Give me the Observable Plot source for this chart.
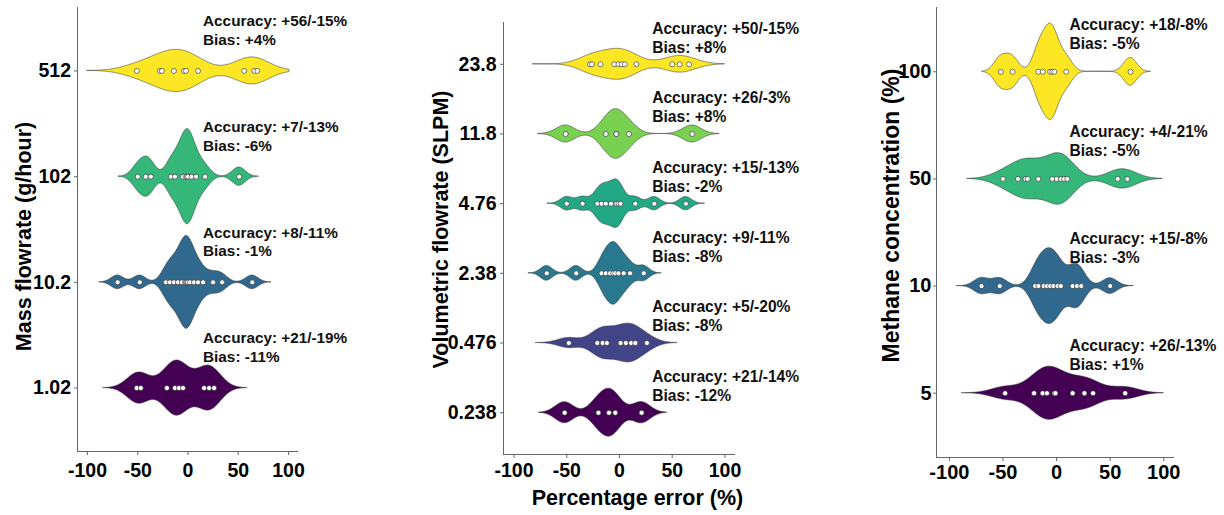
<!DOCTYPE html>
<html><head><meta charset="utf-8">
<script src="https://cdn.jsdelivr.net/npm/d3@7"></script>
<script src="https://cdn.jsdelivr.net/npm/@observablehq/plot@0.6"></script>
<style>
html,body{margin:0;padding:0;background:#fff;}
#root{position:relative;width:1224px;height:515px;overflow:hidden;font-family:"Liberation Sans",Arial,sans-serif;}
.panel{position:absolute;top:0;}
</style></head><body><div id="root"></div>
<script>
// ---------- shared ----------
const xTicks = [-100, -50, 0, 50, 100];
const xTitle = "Percentage error (%)";

// ---------- Panel 1: mass flowrate ----------
const massTitle = "Mass flowrate (g/hour)";
const massLabels = ["512", "102", "10.2", "1.02"];
const massColors = ["#FDE725", "#35B779", "#31688E", "#440154"];
const massPoints = [
  [-51, -28, -26, -14, -4, -2, 10, 56, 66, 69],
  [-50, -42, -37, -17, -13, -5, -2, -1, 0, 3.5, 8, 17, 51],
  [-70, -48, -22, -18, -14, -10, -6, -3, -2, -1, 0, 2, 6, 10, 15, 25, 34, 64],
  [-51, -47, -21, -13, -9, -5, 16, 21, 26]
];
const massBandwidth = [16, 6.4, 6.2, 10.9];
const massRange = [[-100, 101], [-69, 70.5], [-88, 83], [-84, 59]];
const massAccuracy = ["+56/-15%", "+7/-13%", "+8/-11%", "+21/-19%"];
const massBias = ["+4%", "-6%", "-1%", "-11%"];

// ---------- Panel 2: volumetric flowrate ----------
const volTitle = "Volumetric flowrate (SLPM)";
const volLabels = ["23.8", "11.8", "4.76", "2.38", "0.476", "0.238"];
const volColors = ["#FDE725", "#7AD151", "#22A884", "#2A788E", "#414487", "#440154"];
const volPoints = [
  [-28, -26, -18, -5, -1, 2, 5, 16, 50, 57, 66],
  [-51, -13, -3, -3, 9, 69],
  [-50, -35, -21, -17, -13, -8, -3, -1, 1, 15, 33, 63],
  [-69, -41, -17, -13, -9, -6, -4, -1, 4, 10, 23],
  [-48, -21, -16, -12, 1, 6, 11, 15, 26],
  [-52, -20, -10, -4, 21]
];
const volBandwidth = [13, 8.7, 5.6, 5.5, 10, 8.5];
const volRange = [[-82, 100], [-77, 95], [-68, 81], [-86, 40], [-79, 55], [-76, 45]];
const volAccuracy = ["+50/-15%", "+26/-3%", "+15/-13%", "+9/-11%", "+5/-20%", "+21/-14%"];
const volBias = ["+8%", "+8%", "-2%", "-8%", "-8%", "-12%"];

// ---------- Panel 3: methane concentration ----------
const ch4Title = "Methane concentration (%)";
const ch4Labels = ["100", "50", "10", "5"];
const ch4Colors = ["#FDE725", "#35B779", "#31688E", "#440154"];
const ch4Points = [
  [-52, -41, -17, -13, -6, -4, -2, 9, 69],
  [-50, -36, -29, -27, -17, -4, 0, 4, 7, 10, 57, 66],
  [-70, -53, -20, -17, -12, -9, -6, -3, 1, 4, 15, 19, 23, 50],
  [-48, -21, -13, -9, -2, -1, 15, 26, 34, 64]
];
const ch4Bandwidth = [6, 12, 6.8, 12.7];
const ch4Range = [[-69, 88], [-83, 99], [-93, 72], [-88, 100]];
const ch4Accuracy = ["+18/-8%", "+4/-21%", "+15/-8%", "+26/-13%"];
const ch4Bias = ["-5%", "-5%", "-3%", "+1%"];

// ---------- helpers ----------
function kde(values, bw, lo, hi, m = 512) {
  const out = [];
  const c = 1 / (values.length * bw * Math.sqrt(2 * Math.PI));
  for (let k = 0; k < m; k++) {
    const x = lo + (hi - lo) * k / (m - 1);
    let s = 0;
    for (const v of values) { const u = (x - v) / bw; s += Math.exp(-0.5 * u * u); }
    out.push({x, d: s * c});
  }
  return out;
}

const FONT = "Liberation Sans, Arial, Helvetica, sans-serif";

function panel(cfg) {
  const {labels, colors, points, bw, range, acc, bias, title} = cfg;
  const n = labels.length;
  const groups = labels.map((lab, i) => ({lab, i, y: n - 1 - i, dens: kde(points[i], bw[i], range[i][0], range[i][1])}));
  const maxD = d3.max(groups, g => d3.max(g.dens, p => p.d));
  const s = 0.45 / maxD;
  const dots = groups.flatMap(g => points[g.i].map(v => ({v, y: g.y})));
  const marks = [];
  groups.forEach(g => {
    marks.push(Plot.areaY(g.dens, {
      x: "x", y1: p => g.y - p.d * s, y2: p => g.y + p.d * s,
      fill: colors[g.i], stroke: "#3a3a3a", strokeWidth: 0.6
    }));
  });
  marks.push(Plot.dot(dots, {x: "v", y: "y", r: 2.5, fill: "white", stroke: "#222", strokeWidth: 0.6}));
  marks.push(Plot.text(groups, {
    x: () => cfg.textX, y: g => g.y + cfg.textOff,
    text: g => `Accuracy: ${acc[g.i]}\nBias: ${bias[g.i]}`,
    textAnchor: "start", lineAnchor: "middle", lineHeight: 1.22,
    fontSize: cfg.annSize, fontWeight: "bold", fill: "#111"
  }));
  marks.push(Plot.ruleX([cfg.xDomain[0]], {stroke: "#666", strokeWidth: 1}));
  marks.push(Plot.ruleY([-0.6], {stroke: "#666", strokeWidth: 1}));
  marks.push(Plot.axisX({
    ticks: xTicks, tickFormat: d => String(d), tickSize: 4, tickPadding: cfg.padX,
    fontSize: cfg.tickSize, fontWeight: "bold", stroke: "#666", label: null
  }));
  marks.push(Plot.axisY({
    ticks: d3.range(n), tickFormat: i => labels[n - 1 - i], tickSize: 3, tickPadding: cfg.padY,
    fontSize: cfg.tickSize, fontWeight: "bold", stroke: "#666", label: null
  }));
  marks.push(Plot.text([title], {
    frameAnchor: "left", rotate: -90, dx: cfg.titleDx, dy: cfg.titleDy,
    fontSize: cfg.titleSize, fontWeight: "bold", textAnchor: "middle", lineAnchor: "middle", fill: "#000"
  }));
  if (cfg.xTitle) {
    marks.push(Plot.text([cfg.xTitle], {
      frameAnchor: "bottom", dx: cfg.xTitleDx, dy: cfg.xTitleDy,
      fontSize: cfg.titleSize, fontWeight: "bold", textAnchor: "middle", lineAnchor: "middle", fill: "#000"
    }));
  }
  const svg = Plot.plot({
    width: cfg.width, height: 515,
    marginLeft: cfg.ml, marginRight: cfg.mr, marginTop: cfg.mt, marginBottom: cfg.mb,
    x: {domain: cfg.xDomain, label: null},
    y: {domain: [-0.6, n - 0.4], label: null},
    style: {fontFamily: FONT, overflow: "visible", background: "transparent", color: "#000"},
    marks
  });
  const div = document.createElement("div");
  div.className = "panel";
  div.style.left = cfg.left + "px";
  div.appendChild(svg);
  document.getElementById("root").appendChild(div);
}

panel({
  labels: massLabels, colors: massColors, points: massPoints, bw: massBandwidth, range: massRange,
  acc: massAccuracy, bias: massBias, title: massTitle,
  left: 0, width: 400, ml: 77, mr: 102, mt: 7, mb: 64, xDomain: [-110, 110],
  textX: 15, textOff: 0.39, annSize: 15.3, tickSize: 19.5, padX: 8, padY: 3.5,
  titleSize: 21.5, titleDx: -53, titleDy: 7
});
panel({
  labels: volLabels, colors: volColors, points: volPoints, bw: volBandwidth, range: volRange,
  acc: volAccuracy, bias: volBias, title: volTitle, xTitle,
  left: 420, width: 395, ml: 83, mr: 80, mt: 22, mb: 61, xDomain: [-110, 110],
  textX: 31, textOff: 0.39, annSize: 15.6, tickSize: 19.5, padX: 5, padY: 4,
  titleSize: 21.5, titleDx: -62, titleDy: -9, xTitleDx: 18, xTitleDy: 44
});
panel({
  labels: ch4Labels, colors: ch4Colors, points: ch4Points, bw: ch4Bandwidth, range: ch4Range,
  acc: ch4Accuracy, bias: ch4Bias, title: ch4Title,
  left: 850, width: 374, ml: 86, mr: 50, mt: 7, mb: 58, xDomain: [-112, 110],
  textX: 12, textOff: 0.36, annSize: 15.6, tickSize: 20, padX: 3, padY: 2,
  titleSize: 23, titleDx: -45, titleDy: -17
});
</script></body></html>
